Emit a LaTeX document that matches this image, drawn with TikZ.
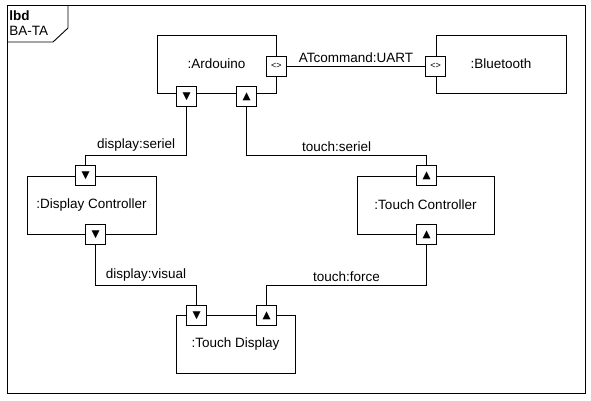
\documentclass[tikz,border=0pt]{standalone}
\usepackage{fontspec}
\setmainfont{Liberation Sans}
\newfontfamily\symfont{DejaVu Sans}
\usetikzlibrary{positioning}

\tikzset{
  block/.style={draw, rectangle, minimum height=58pt, inner sep=0pt},
  port/.style={draw, fill=white, rectangle, minimum size=20pt, inner sep=0pt, font=\symfont\fontsize{10.5}{10.5}\selectfont},
  portio/.style={port, font=\fontsize{9}{9}\selectfont},
  lbl/.style={above, inner sep=3pt}
}

\begin{document}
\begin{tikzpicture}[x=1pt, y=-1pt, line width=0.9pt, font=\fontsize{13.5}{15}\selectfont]
  \useasboundingbox (0,0) rectangle (591,400);

  % frame with tab
  \draw (7,5) rectangle (585,393);
  \draw (7,42) -- (53,42) -- (68,28) -- (68,5);
  \node[anchor=base west, inner sep=0pt] (kind) at (9,20) {\textbf{lbd}};
  \node[anchor=base west, inner sep=0pt] (name) at (9,35) {BA-TA};

  % blocks
  \node[block, minimum width=119pt] (ardouino) at (216.5,64) {:Ardouino};
  \node[block, minimum width=130pt] (bluetooth) at (501,64) {:Bluetooth};
  \node[block, minimum width=129pt] (dispctrl) at (91.5,205) {:Display Controller};
  \node[block, minimum width=137pt] (touchctrl) at (425.5,205) {:Touch Controller};
  \node[block, minimum width=119pt] (touchdisp) at (235.5,344) {:Touch Display};

  % ports
  \node[portio] (ard-bt) at ([yshift=-2pt]ardouino.east) {<>};
  \node[portio] (bt-ard) at ([yshift=-2pt]bluetooth.west) {<>};
  \node[port] (ard-disp) at ([xshift=30pt, yshift=-3pt]ardouino.south west) {▼};
  \node[port] (ard-touch) at ([xshift=90pt, yshift=-3pt]ardouino.south west) {▲};
  \node[port] (dc-in) at ([xshift=59pt]dispctrl.north west) {▼};
  \node[port] (dc-out) at ([xshift=69pt]dispctrl.south west) {▼};
  \node[port] (tc-in) at ([xshift=70pt]touchctrl.north west) {▲};
  \node[port] (tc-out) at ([xshift=70pt]touchctrl.south west) {▲};
  \node[port] (td-in) at ([xshift=21pt, yshift=-1pt]touchdisp.north west) {▼};
  \node[port] (td-out) at ([xshift=91pt, yshift=-1pt]touchdisp.north west) {▲};

  % connectors
  \draw (ard-bt) -- node[lbl] {ATcommand:UART} (bt-ard);
  \draw (ard-disp.south) -- (ard-disp.south |- 0,155)
    -- node[lbl] {display:seriel} (dc-in.north |- 0,155) -- (dc-in.north);
  \draw (ard-touch.south) -- (ard-touch.south |- 0,155)
    -- node[lbl] {touch:seriel} (tc-in.north |- 0,155) -- (tc-in.north);
  \draw (dc-out.south) -- (dc-out.south |- 0,285)
    -- node[lbl] {display:visual} (td-in.north |- 0,285) -- (td-in.north);
  \draw (tc-out.south) -- (tc-out.south |- 0,285)
    -- node[lbl] {touch:force} (td-out.north |- 0,285) -- (td-out.north);
\end{tikzpicture}
\end{document}
